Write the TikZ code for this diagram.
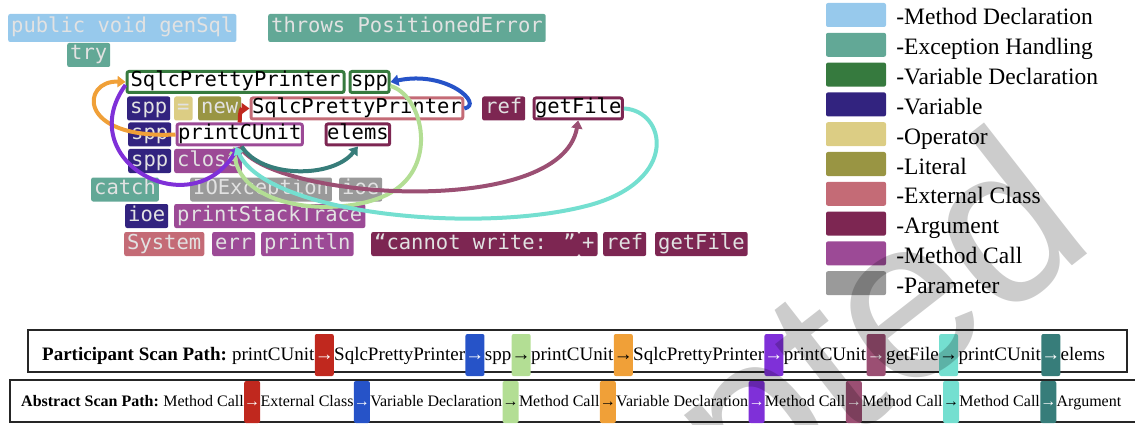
\documentclass[tikz,border=0pt]{standalone}
\usepackage{fontspec}
\setmainfont{Liberation Serif}
\newfontfamily\codefont{DejaVu Sans Mono}
\newfontfamily\markfont{Liberation Sans}
\usetikzlibrary{positioning,arrows.meta}
\definecolor{mdecl}{HTML}{97C9EC}
\definecolor{exch}{HTML}{62A896}
\definecolor{vdecl}{HTML}{367A3E}
\definecolor{varb}{HTML}{32237F}
\definecolor{oper}{HTML}{DCCD84}
\definecolor{litr}{HTML}{999543}
\definecolor{extc}{HTML}{C46B76}
\definecolor{argu}{HTML}{7D2652}
\definecolor{mcall}{HTML}{9C4A96}
\definecolor{param}{HTML}{9A9A9A}
\definecolor{tokgray}{HTML}{E2E2E2}
\definecolor{gzred}{HTML}{C0281E}
\definecolor{gzblue}{HTML}{2653C8}
\definecolor{gzgreen}{HTML}{B3DE94}
\definecolor{gzorange}{HTML}{F0A038}
\definecolor{gzpurple}{HTML}{7F30D8}
\definecolor{gzmauve}{HTML}{9B4F73}
\definecolor{gzturq}{HTML}{74DFD0}
\definecolor{gzteal}{HTML}{377D7A}

\begin{document}
\begin{tikzpicture}[x=1pt,y=-1pt,
 tok/.style={anchor=west,rounded corners=2pt,inner xsep=3pt,inner ysep=2pt,text height=15pt,text depth=5pt,font=\codefont\fontsize{20.5pt}{24pt}\selectfont},
 ftok/.style={tok,fill=#1,text=tokgray},
 otok/.style={tok,draw=#1,line width=3pt,fill=white,text=black,inner xsep=1pt,inner ysep=0.5pt},
 gaze/.style={draw=#1,line width=4pt,-{Triangle[length=8pt,width=11pt]}},
 swatch/.style={fill=#1,rounded corners=2pt,minimum width=60pt,minimum height=24pt,inner sep=0pt},
 keytxt/.style={anchor=base west,inner sep=0pt,font=\fontsize{23.5pt}{28pt}\selectfont},
 scanframe/.style={draw=black!85,line width=1.3pt},
 pword/.style={inner sep=0pt,text height=14pt,text depth=4pt,font=\fontsize{19pt}{22pt}\selectfont},
 pbar/.style={pword,fill=#1,text=white,rounded corners=2pt,minimum width=19pt,minimum height=42pt},
 aword/.style={inner sep=0pt,text height=12pt,text depth=3.5pt,font=\fontsize{16pt}{19pt}\selectfont},
 abar/.style={aword,fill=#1,text=white,rounded corners=2pt,minimum width=15.5pt,minimum height=42pt},
 wmark/.style={anchor=base east,rotate=38,inner sep=0pt,text=black,text opacity=0.2,font=\markfont\fontsize{230pt}{230pt}\selectfont}]
\useasboundingbox (0,0) rectangle (1135,425);
% code tokens
\node[ftok=mdecl,minimum height=28pt] (gensql) at (8,28) {public void genSql};
\node[ftok=exch,minimum height=28pt] (throws) at (268,28) {throws PositionedError};
\node[ftok=exch] (try) at (67,55) {try};
%
\node[otok=vdecl,minimum width=217pt] (vdeclA) at (125.5,82) {SqlcPrettyPrinter};
\node[otok=vdecl] (vdeclB) at (348.5,82) {spp};
%
\node[ftok=varb] (sppA) at (127,108.5) {spp};
\node[ftok=oper] (eq) at (174,108.5) {=};
\node[ftok=litr] (new) at (198,108.5) {new};
\node[otok=extc] (extA) at (249.5,108.5) {SqlcPrettyPrinter};
\node[ftok=argu] (refA) at (482,108.5) {ref};
\node[otok=argu] (getfile) at (532.5,108.5) {getFile};
%
\node[ftok=varb] (sppB) at (128,134.5) {spp};
\node[otok=mcall] (printcu) at (175.5,134.5) {printCUnit};
\node[otok=argu] (elems) at (324.5,134.5) {elems};
%
\node[ftok=varb] (sppC) at (128,161) {spp};
\node[ftok=mcall] (close) at (174,161) {close};
%
\node[ftok=exch] (catch) at (91,189.5) {catch};
\node[ftok=param] (ioexc) at (190,189.5) {IOException};
\node[ftok=param] (ioeA) at (339,189.5) {ioe};
%
\node[ftok=varb] (ioeB) at (125,216) {ioe};
\node[ftok=mcall] (stack) at (174,216) {printStackTrace};
%
\node[ftok=extc] (system) at (124,244) {System};
\node[ftok=mcall] (err) at (212,244) {err};
\node[ftok=mcall] (println) at (261,244) {println};
\node[ftok=argu] (msg) at (371,244) {“cannot write: ”};
\node[ftok=argu] (plus) at (579,244) {+};
\node[ftok=argu] (refB) at (603,244) {ref};
\node[ftok=argu] (getfileB) at (655,244) {getFile};
%% gaze transitions
\draw[gaze=gzred] (printcu.north) .. controls +(0,-12) and +(-8,0) .. (extA.west);
\draw[gaze=gzblue] (extA.east) .. controls +(20,-4) and +(56,-12) .. (vdeclB.east);
\draw[gaze=gzgreen] ([yshift=-4pt]vdeclB.east) .. controls +(31,9) and +(43,-29) .. (395,190) .. controls +(-40,28) and +(6,68) .. ([xshift=-6pt]printcu.south);
\draw[gaze=gzorange] (printcu.west) .. controls +(-100,5) and +(-44,-2) .. (vdeclA.west);
\draw[gaze=gzpurple] ([yshift=-3pt]vdeclA.west) .. controls +(-54,75) and +(-48,80) .. ([xshift=-1pt]printcu.south);
\draw[gaze=gzmauve] (printcu.south) .. controls +(31,53) and +(-17,99) .. (getfile.south);
\draw[gaze=gzturq] (getfile.east) .. controls +(42,2) and +(90,-25) .. (590,205) .. controls +(-110,30) and +(31,68) .. ([xshift=-4pt]printcu.south);
\draw[gaze=gzteal] ([xshift=2pt]printcu.south) .. controls +(20,32) and +(-25,32) .. (elems.south);
%% legend
\node[swatch=mdecl] (k1) at (856,15) {};
\node[swatch=exch] (k2) at (856,44.8) {};
\node[swatch=vdecl] (k3) at (856,74.6) {};
\node[swatch=varb] (k4) at (856,104.4) {};
\node[swatch=oper] (k5) at (856,134.2) {};
\node[swatch=litr] (k6) at (856,164) {};
\node[swatch=extc] (k7) at (856,193.8) {};
\node[swatch=argu] (k8) at (856,223.6) {};
\node[swatch=mcall] (k9) at (856,253.4) {};
\node[swatch=param] (k10) at (856,283.2) {};
\node[keytxt] (k1t) at ([xshift=10pt,yshift=-10pt]k1.east) {-Method Declaration};
\node[keytxt] (k2t) at ([xshift=10pt,yshift=-10pt]k2.east) {-Exception Handling};
\node[keytxt] (k3t) at ([xshift=10pt,yshift=-10pt]k3.east) {-Variable Declaration};
\node[keytxt] (k4t) at ([xshift=10pt,yshift=-10pt]k4.east) {-Variable};
\node[keytxt] (k5t) at ([xshift=10pt,yshift=-10pt]k5.east) {-Operator};
\node[keytxt] (k6t) at ([xshift=10pt,yshift=-10pt]k6.east) {-Literal};
\node[keytxt] (k7t) at ([xshift=10pt,yshift=-10pt]k7.east) {-External Class};
\node[keytxt] (k8t) at ([xshift=10pt,yshift=-10pt]k8.east) {-Argument};
\node[keytxt] (k9t) at ([xshift=10pt,yshift=-10pt]k9.east) {-Method Call};
\node[keytxt] (k10t) at ([xshift=10pt,yshift=-10pt]k10.east) {-Parameter};
%% scan paths
\draw[scanframe] (28,330) rectangle (1127,372);
\draw[scanframe] (10,380) rectangle (1145,422);
\node[pword,anchor=west] (ps0) at (42,355) {\textbf{Participant Scan Path:}};
\node[pword,right=4.75pt of ps0] (ps1) {printCUnit};
\node[pbar=gzred,right=0pt of ps1] (pa1) {→};
\node[pword,right=0pt of pa1] (ps2) {SqlcPrettyPrinter};
\node[pbar=gzblue,right=0pt of ps2] (pa2) {→};
\node[pword,right=0pt of pa2] (ps3) {spp};
\node[pbar=gzgreen,text=black,right=0pt of ps3] (pa3) {→};
\node[pword,right=0pt of pa3] (ps4) {printCUnit};
\node[pbar=gzorange,text=black,right=0pt of ps4] (pa4) {→};
\node[pword,right=0pt of pa4] (ps5) {SqlcPrettyPrinter};
\node[pbar=gzpurple,right=0pt of ps5] (pa5) {→};
\node[pword,right=0pt of pa5] (ps6) {printCUnit};
\node[pbar=gzmauve,right=0pt of ps6] (pa6) {→};
\node[pword,right=0pt of pa6] (ps7) {getFile};
\node[pbar=gzturq,text=black,right=0pt of ps7] (pa7) {→};
\node[pword,right=0pt of pa7] (ps8) {printCUnit};
\node[pbar=gzteal,right=0pt of ps8] (pa8) {→};
\node[pword,right=0pt of pa8] (ps9) {elems};
%
\node[aword,anchor=west] (as0) at (21,402) {\textbf{Abstract Scan Path:}};
\node[aword,right=4pt of as0] (as1) {Method Call};
\node[abar=gzred,right=0pt of as1] (aa1) {→};
\node[aword,right=0pt of aa1] (as2) {External Class};
\node[abar=gzblue,right=0pt of as2] (aa2) {→};
\node[aword,right=0pt of aa2] (as3) {Variable Declaration};
\node[abar=gzgreen,text=black,right=0pt of as3] (aa3) {→};
\node[aword,right=0pt of aa3] (as4) {Method Call};
\node[abar=gzorange,text=black,right=0pt of as4] (aa4) {→};
\node[aword,right=0pt of aa4] (as5) {Variable Declaration};
\node[abar=gzpurple,right=0pt of as5] (aa5) {→};
\node[aword,right=0pt of aa5] (as6) {Method Call};
\node[abar=gzmauve,right=0pt of as6] (aa6) {→};
\node[aword,right=0pt of aa6] (as7) {Method Call};
\node[abar=gzturq,text=black,right=0pt of as7] (aa7) {→};
\node[aword,right=0pt of aa7] (as8) {Method Call};
\node[abar=gzteal,right=0pt of as8] (aa8) {→};
\node[aword,right=0pt of aa8] (as9) {Argument};
%% watermark
\begin{scope}
\clip (0,0) rectangle (1135,425);
\node[wmark] (stamp) at (1100,245) {Accepted};
\end{scope}
\end{tikzpicture}
\end{document}
